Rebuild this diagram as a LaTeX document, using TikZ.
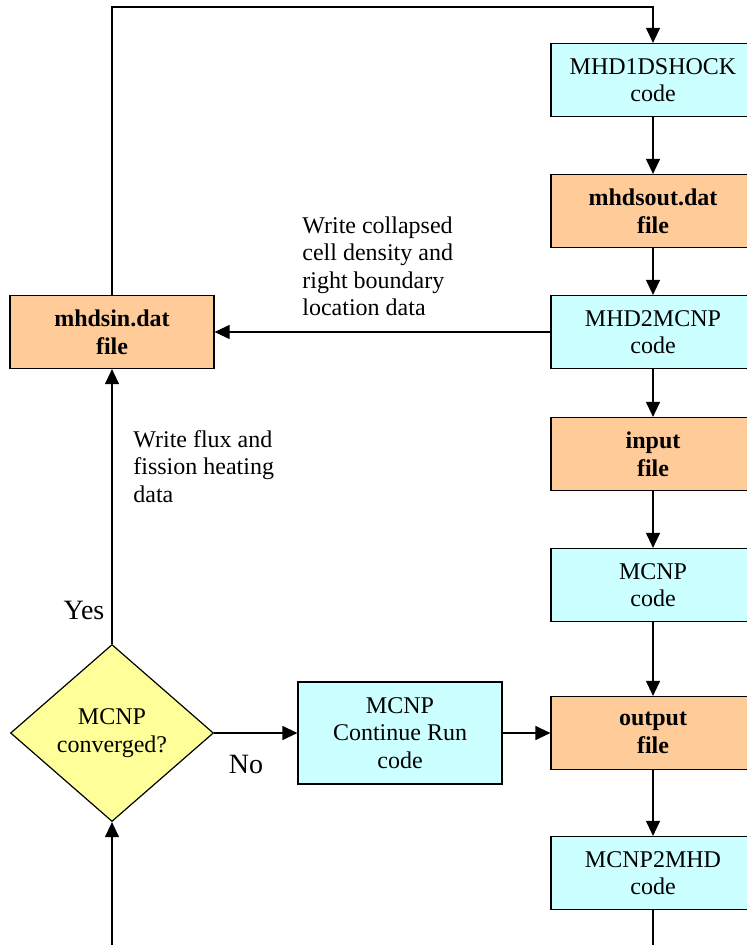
\documentclass[tikz,border=0pt]{standalone}
\usepackage{fontspec}
\setmainfont{Liberation Serif}
\usepackage{tikz}
\usetikzlibrary{arrows.meta,positioning,shapes.geometric}
\definecolor{mhdCyan}{HTML}{CCFFFF}
\definecolor{mhdPeach}{HTML}{FFCC99}
\definecolor{mhdYellow}{HTML}{FFFF99}
\tikzset{
    >={Triangle[length=7.5pt,width=7pt]},
    every node/.style={font=\fontsize{12}{13.8}\selectfont},
    codebox/.style={draw=black, line width=0.6pt, align=center, minimum width=102pt, minimum height=36.5pt, inner sep=1pt, fill=mhdCyan, text=black},
    filebox/.style={draw=black, line width=0.6pt, align=center, minimum width=102pt, minimum height=36.5pt, inner sep=1pt, fill=mhdPeach, text=black, font=\fontsize{12}{13.8}\selectfont\bfseries},
    decide/.style={diamond, draw=black, line width=0.6pt, align=center, minimum width=101.5pt, minimum height=88.5pt, inner sep=1pt, fill=mhdYellow},
    note/.style={align=left, inner sep=0pt, anchor=north west},
    answer/.style={inner sep=0pt, anchor=base, font=\fontsize{14}{16}\selectfont},
    arrow/.style={->, line width=0.6pt, draw=black},
    line/.style={line width=0.6pt, draw=black}
}
\begin{document}
\begin{tikzpicture}[x=0.5pt, y=-0.5pt]
\useasboundingbox (0,0) rectangle (746,945);
\node[codebox] (shock) at (653,80) {MHD1DSHOCK\\code};
\node[filebox] (mhdsout) at (653,211) {mhdsout.dat\\file};
\node[codebox] (mhd2mcnp) at (653,332) {MHD2MCNP\\code};
\node[filebox] (input) at (653,454) {input\\file};
\node[codebox] (mcnp) at (653,585) {MCNP\\code};
\node[filebox] (output) at (653,733) {output\\file};
\node[codebox] (mcnp2mhd) at (653,873) {MCNP2MHD\\code};
\node[filebox] (mhdsin) at (112,332) {mhdsin.dat\\file};
\node[decide] (conv) at (112,733) {MCNP\\converged?};
\node[codebox, minimum height=51pt] (cont) at (400,733) {MCNP\\Continue Run\\code};
\coordinate (top) at (112,7);
\coordinate (botR) at (653,945);
\coordinate (botL) at (112,945);
\node[note] (collapsed) at (302,216) {Write collapsed\\cell density and\\right boundary\\location data};
\node[note] (flux) at (133,430) {Write flux and\\fission heating\\data};
\node[answer] (yes) at (84,619) {Yes};
\node[answer] (no) at (246,773) {No};
\draw[arrow] (mhdsin.north) -- (top) -| (shock.north);
\draw[arrow] (shock) -- (mhdsout);
\draw[arrow] (mhdsout) -- (mhd2mcnp);
\draw[arrow] (mhd2mcnp) -- (input);
\draw[arrow] (input) -- (mcnp);
\draw[arrow] (mcnp) -- (output);
\draw[arrow] (output) -- (mcnp2mhd);
\draw[line] (mcnp2mhd) -- (botR);
\draw[arrow] (mhd2mcnp.west) -- (mhdsin.east);
\draw[arrow] (botL) -- (conv.south);
\draw[arrow] (conv.north) -- (mhdsin.south);
\draw[arrow] (conv.east) -- (cont.west);
\draw[arrow] (cont.east) -- (output.west);
\end{tikzpicture}
\end{document}
